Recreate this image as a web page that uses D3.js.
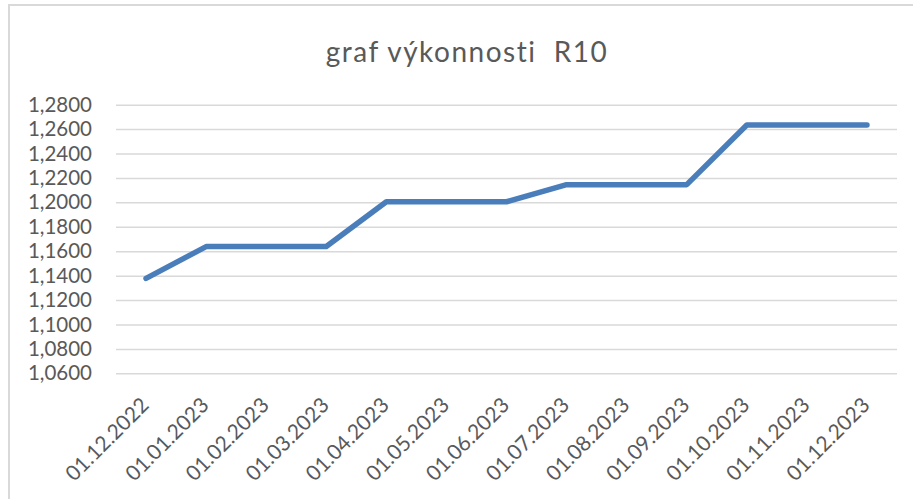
<!DOCTYPE html>
<html>
<head>
<meta charset="utf-8">
<script src="https://d3js.org/d3.v7.min.js"></script>
<title>graf výkonnosti R10</title>
<style>
body {
	margin: 0;
	background: #fff;
}
#root {
	width: 913px;
	height: 499px;
	display: block;
}
text {
	font-family: Lato, "Open Sans", sans-serif;
	fill: #595959;
}
</style>
</head>
<body>
<svg id="root" width="913" height="499"></svg>

<script>
let dates = ['01.12.2022', '01.01.2023', '01.02.2023', '01.03.2023', '01.04.2023', '01.05.2023', '01.06.2023',
	'01.07.2023', '01.08.2023', '01.09.2023', '01.10.2023', '01.11.2023', '01.12.2023']
let values = [1.1377, 1.1638, 1.1638, 1.1638, 1.2005, 1.2005, 1.2005, 1.2145, 1.2145, 1.2145, 1.2634, 1.2634, 1.2634]
let yTicks = [1.06, 1.08, 1.10, 1.12, 1.14, 1.16, 1.18, 1.20, 1.22, 1.24, 1.26, 1.28]
let title = 'graf výkonnosti  R10'

let svg = d3.select('#root')

// chart frame (only left and top edges are visible in the crop)
svg.append('rect')
	.attr('x', 9).attr('y', 5)
	.attr('width', 960).attr('height', 560)
	.attr('fill', 'none')
	.attr('stroke', '#d9d9d9')
	.attr('stroke-width', 2)

svg.append('text')
	.attr('x', 467).attr('y', 62)
	.attr('text-anchor', 'middle')
	.style('font-size', '28px')
	.style('letter-spacing', '1.5px')
	.style('white-space', 'pre')
	.text(title)

let x = d3.scaleBand().domain(dates).range([116, 897])
let y = d3.scaleLinear().domain([1.06, 1.28]).range([373.3, 104.7])

let fmt = v => d3.format('.4f')(v).replace('.', ',')

// gridlines + y labels
let yAxis = svg.append('g')
	.attr('transform', 'translate(116,0)')
	.call(d3.axisLeft(y).tickValues(yTicks).tickFormat(fmt).tickSize(-781).tickPadding(24))
yAxis.select('.domain').remove()
yAxis.selectAll('line').attr('stroke', '#d9d9d9').attr('stroke-width', 1.5)
yAxis.selectAll('text')
	.attr('fill', '#595959')
	.style('font-size', '20.5px')
	.style('font-family', 'Lato, "Open Sans", sans-serif')

// x labels, rotated
let xAxis = svg.append('g')
	.attr('transform', 'translate(0,373.3)')
	.call(d3.axisBottom(x).tickSize(0))
xAxis.select('.domain').remove()
xAxis.selectAll('text')
	.attr('fill', '#595959')
	.style('font-size', '21px')
	.style('font-family', 'Lato, "Open Sans", sans-serif')
	.attr('text-anchor', 'end')
	.attr('dy', null)
	.attr('transform', 'translate(2,31) rotate(-45)')

let line = d3.line()
	.x((d, i) => x(dates[i]) + x.bandwidth() / 2)
	.y(d => y(d))

svg.append('path')
	.datum(values)
	.attr('d', line)
	.attr('fill', 'none')
	.attr('stroke', '#4a7ebb')
	.attr('stroke-width', 5.5)
	.attr('stroke-linecap', 'round')
	.attr('stroke-linejoin', 'round')
</script>
</body>
</html>
